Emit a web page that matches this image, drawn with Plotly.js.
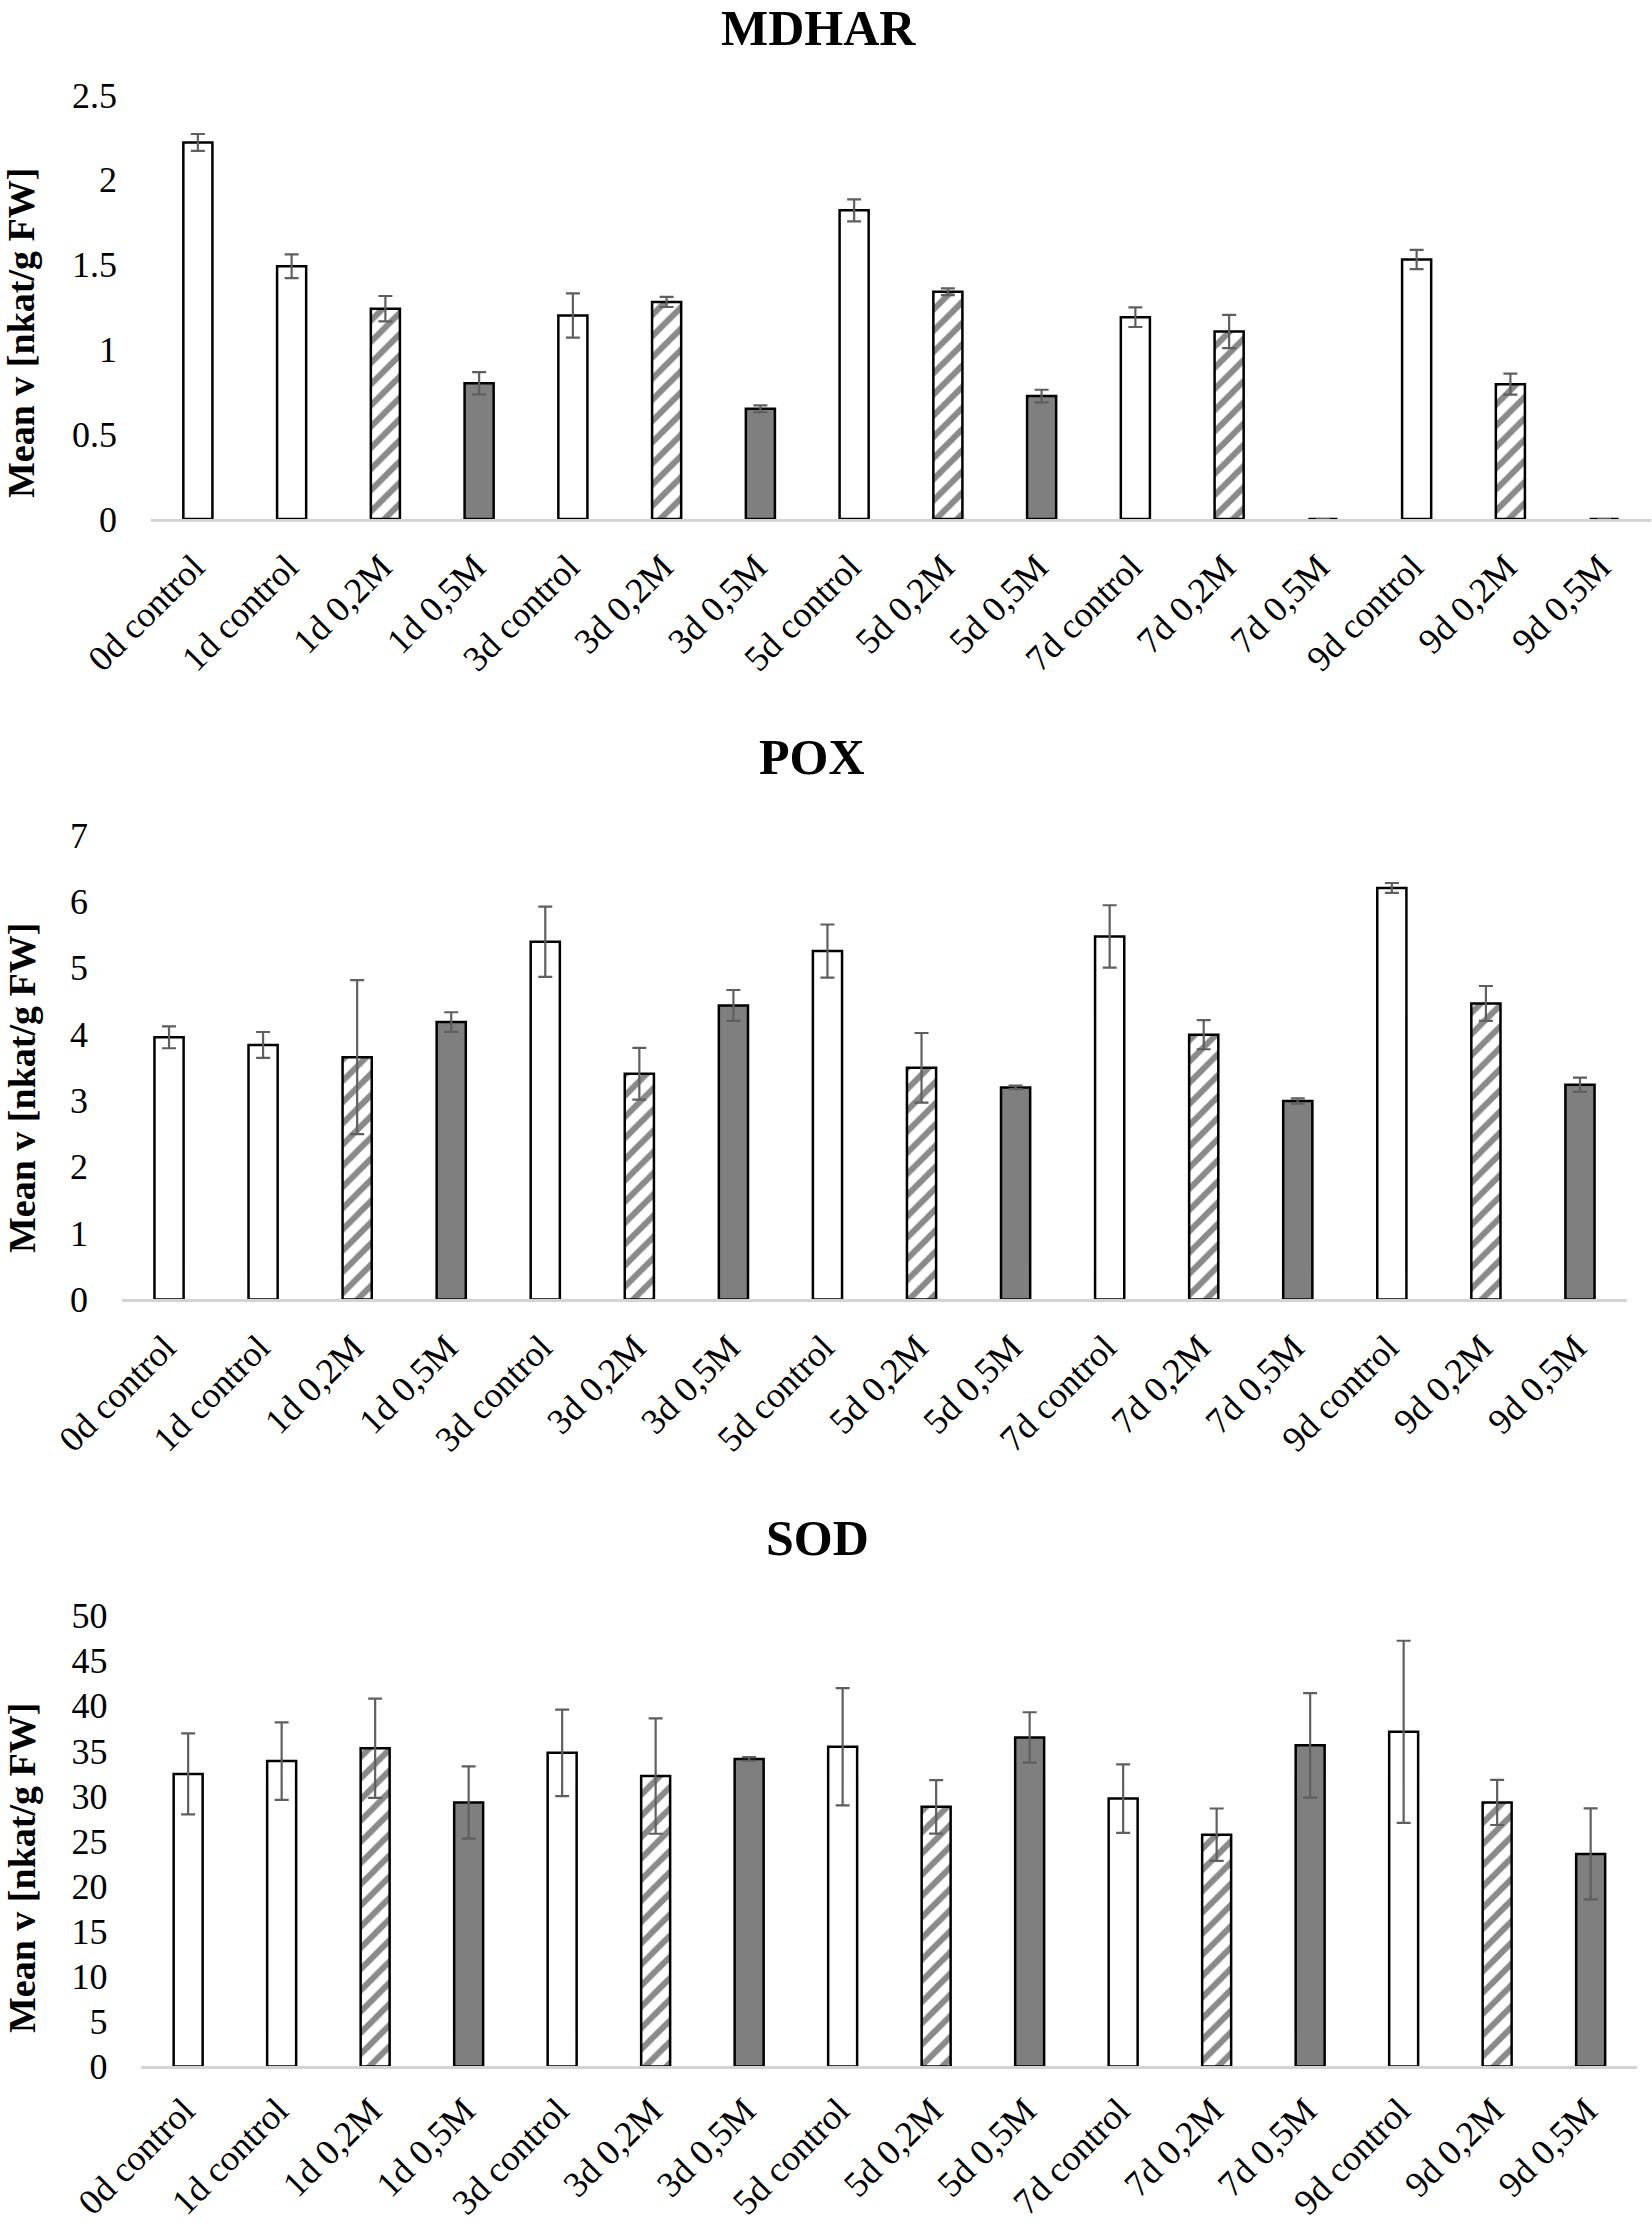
<!DOCTYPE html>
<html>
<head>
<meta charset="utf-8">
<script src="https://cdn.plot.ly/plotly-3.0.1.min.js"></script>
<style>html,body{margin:0;padding:0;background:#fff;}</style>
</head>
<body>
<div id="chart" style="width:1652px;height:2224px;"></div>
<script>
// ---- data ----
const categories = ['0d control','1d control','1d 0,2M','1d 0,5M','3d control','3d 0,2M','3d 0,5M','5d control','5d 0,2M','5d 0,5M','7d control','7d 0,2M','7d 0,5M','9d control','9d 0,2M','9d 0,5M'];
const treatment = ['control','control','0,2M','0,5M','control','0,2M','0,5M','control','0,2M','0,5M','control','0,2M','0,5M','control','0,2M','0,5M'];
const groups = ['control', '0,2M', '0,5M'];

const mdharMean = [2.22, 1.49, 1.24, 0.80, 1.20, 1.28, 0.65, 1.82, 1.34, 0.725, 1.19, 1.105, 0, 1.53, 0.795, 0];
const mdharErr  = [0.05, 0.07, 0.075, 0.066, 0.13, 0.03, 0.02, 0.065, 0.02, 0.037, 0.058, 0.098, 0, 0.057, 0.062, 0];

const poxMean = [3.95, 3.835, 3.65, 4.18, 5.39, 3.40, 4.43, 5.25, 3.49, 3.195, 5.47, 3.99, 2.99, 6.20, 4.46, 3.235];
const poxErr  = [0.165, 0.195, 1.16, 0.147, 0.53, 0.39, 0.233, 0.40, 0.525, 0.027, 0.47, 0.22, 0.04, 0.075, 0.263, 0.107];

const sodMean = [32.45, 33.87, 35.30, 29.28, 34.79, 32.21, 34.11, 35.46, 28.80, 36.49, 29.71, 25.71, 35.62, 37.12, 29.28, 23.57];
const sodErr  = [4.5, 4.3, 5.5, 4.0, 4.8, 6.4, 0.2, 6.5, 2.97, 2.8, 3.8, 2.9, 5.8, 10.1, 2.5, 5.05];

const mdharTicks = [0, 0.5, 1, 1.5, 2, 2.5];
const poxTicks = [0, 1, 2, 3, 4, 5, 6, 7];
const sodTicks = [0, 5, 10, 15, 20, 25, 30, 35, 40, 45, 50];

const panelTitles = ['MDHAR', 'POX', 'SOD'];
const yTitle = 'Mean v [nkat/g FW]';

// ---- styling ----
const W = 1652, H = 2224;
const serif = 'Liberation Serif, Times New Roman, serif';
const groupStyle = {
  'control': {color: '#ffffff'},
  '0,2M':    {color: '#ffffff', pattern: {shape: '/', fgcolor: '#8a8a8a', bgcolor: '#ffffff', size: 15, solidity: 0.4, fillmode: 'replace'}},
  '0,5M':    {color: '#7f7f7f'}
};

function panelTraces(mean, err, xa, ya) {
  return groups.map(g => {
    const idx = treatment.map((t, i) => t === g ? i : -1).filter(i => i >= 0);
    const st = groupStyle[g];
    const marker = {color: st.color, line: {color: '#000000', width: 2.5}};
    if (st.pattern) marker.pattern = st.pattern;
    return {
      type: 'bar',
      name: g,
      x: idx.map(i => categories[i]),
      y: idx.map(i => mean[i]),
      xaxis: xa, yaxis: ya,
      showlegend: false,
      marker: marker,
      error_y: {type: 'data', array: idx.map(i => err[i]), symmetric: true, visible: true,
                color: '#5f5f5f', thickness: 2.2, width: 7}
    };
  });
}

const data = [].concat(
  panelTraces(mdharMean, mdharErr, 'x', 'y'),
  panelTraces(poxMean, poxErr, 'x2', 'y2'),
  panelTraces(sodMean, sodErr, 'x3', 'y3')
);

function px2x(p) { return p / W; }
function px2y(p) { return 1 - p / H; }

function xAxis(left, right, anchor, standoff) {
  return {
    domain: [px2x(left), px2x(right)],
    anchor: anchor,
    type: 'category',
    categoryorder: 'array', categoryarray: categories,
    showgrid: false, zeroline: false,
    showline: true, linecolor: '#d4d4d4', linewidth: 2.5,
    layer: 'above traces',
    ticks: '',
    tickangle: -45,
    ticklabelstandoff: standoff,
    ticklabelshift: -4,
    tickfont: {family: serif, size: 36, color: '#000000'},
    fixedrange: true
  };
}
function yAxis(bottom, top, range, ticks, anchor) {
  return {
    domain: [px2y(bottom), px2y(top)],
    anchor: anchor,
    range: range,
    tickmode: 'array', tickvals: ticks,
    showgrid: false, zeroline: false, showline: false,
    ticks: '',
    ticklabelstandoff: 33,
    tickfont: {family: serif, size: 36, color: '#000000'},
    fixedrange: true
  };
}

function titleAnn(text, xp, yp) {
  return {text: '<b>' + text + '</b>', x: px2x(xp), y: px2y(yp), xref: 'paper', yref: 'paper',
          xanchor: 'center', yanchor: 'middle', showarrow: false, borderpad: 0,
          font: {family: serif, size: 50, color: '#000'}};
}
function yTitleAnn(xp, yp) {
  return {text: '<b>' + yTitle + '</b>', x: px2x(xp), y: px2y(yp), xref: 'paper', yref: 'paper',
          textangle: -90, xanchor: 'center', yanchor: 'middle', showarrow: false, borderpad: 0,
          font: {family: serif, size: 38, color: '#000'}};
}

const layout = {
  width: W, height: H,
  margin: {l: 0, r: 0, t: 0, b: 0},
  paper_bgcolor: '#ffffff',
  plot_bgcolor: '#ffffff',
  barmode: 'overlay',
  bargap: 0.69,
  xaxis:  xAxis(151, 1651, 'y', 10),
  yaxis:  yAxis(519, 95, [0, 2.5], mdharTicks, 'x'),
  xaxis2: xAxis(122, 1627, 'y2', 10),
  yaxis2: yAxis(1299.4, 834.9, [0, 7], poxTicks, 'x2'),
  xaxis3: xAxis(141.4, 1637.4, 'y3', 6),
  yaxis3: yAxis(2066.4, 1615.7, [0, 50], sodTicks, 'x3'),
  annotations: [
    titleAnn(panelTitles[0], 818, 28),
    titleAnn(panelTitles[1], 812, 757),
    titleAnn(panelTitles[2], 817, 1538),
    yTitleAnn(21, 333),
    yTitleAnn(22, 1088),
    yTitleAnn(22, 1868)
  ]
};

Plotly.newPlot('chart', data, layout, {staticPlot: true, displayModeBar: false});
</script>
</body>
</html>
